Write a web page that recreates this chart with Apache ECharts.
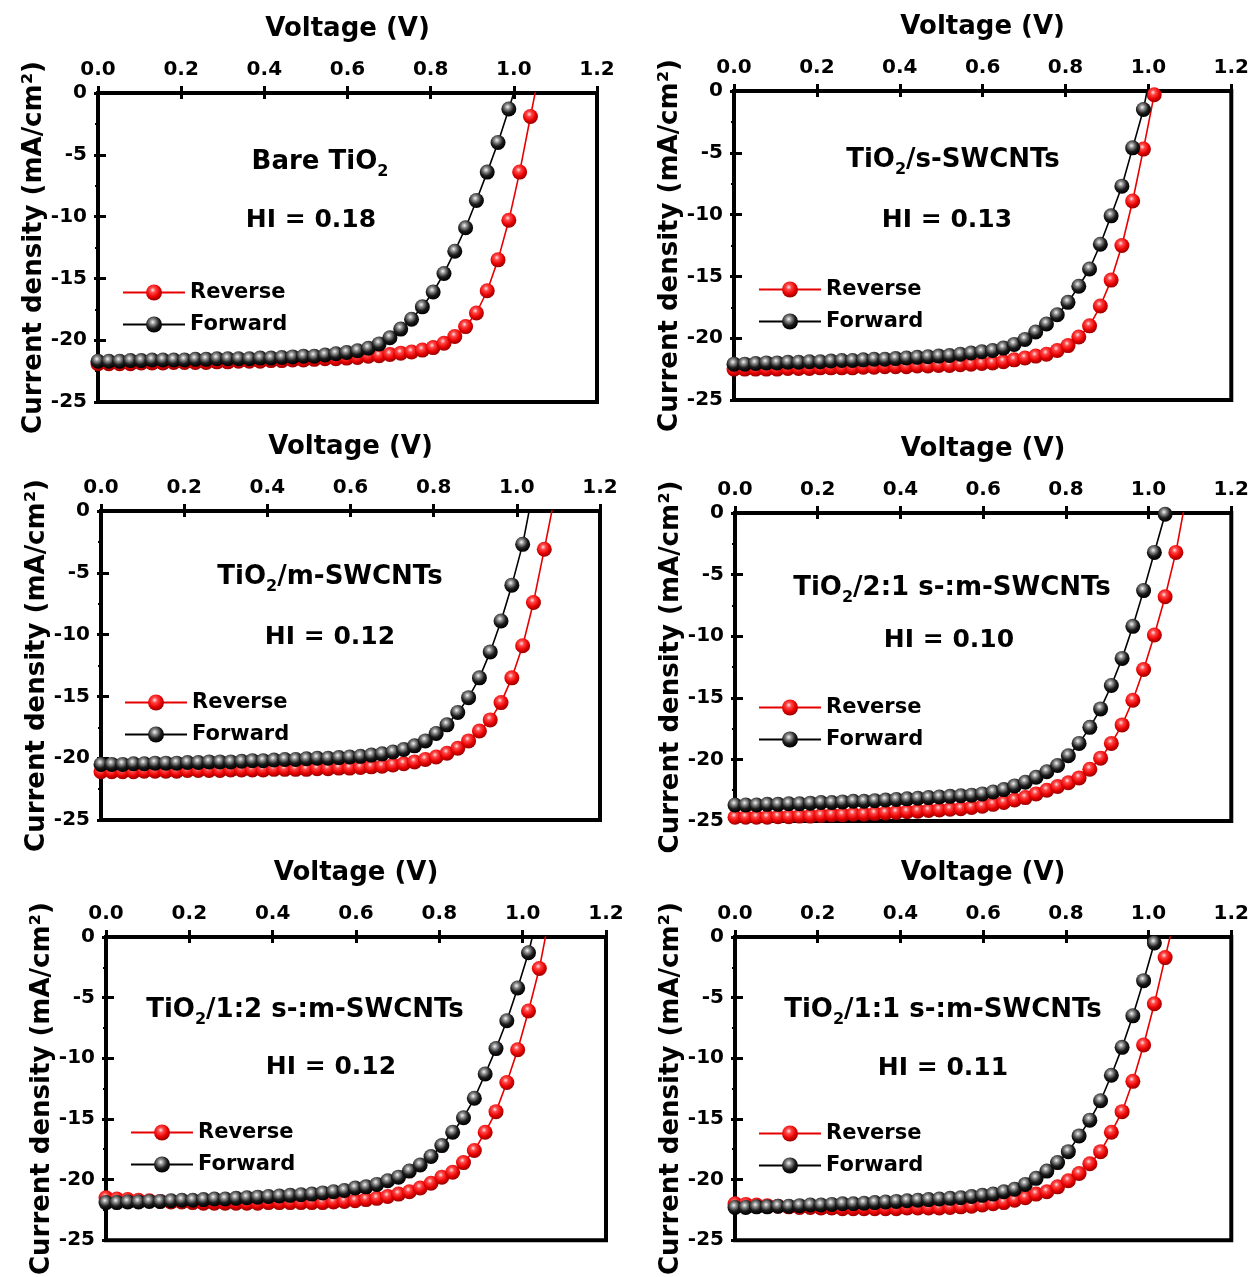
<!DOCTYPE html>
<html><head><meta charset="utf-8">
<script src="https://cdn.jsdelivr.net/npm/echarts@6/dist/echarts.min.js"></script>
<style>html,body{margin:0;padding:0;background:#fff}#c{width:1252px;height:1277px}</style>
</head><body><div id="c"></div>
<script>
// ---------- DATA ----------
const voltage = [
 0.000,0.026,0.052,0.078,0.104,0.130,0.156,0.182,0.208,0.234,
 0.260,0.286,0.312,0.338,0.364,0.390,0.416,0.442,0.468,0.494,
 0.520,0.546,0.572,0.598,0.624,0.650,0.676,0.702,0.728,0.754,
 0.780,0.806,0.832,0.858,0.884,0.910,0.936,0.962,0.988,1.014,
 1.040,1.066,1.092,1.118];

const xTickLabels = ['0.0','0.2','0.4','0.6','0.8','1.0','1.2'];
const yTickLabels = ['-25','-20','-15','-10','-5','0'];
const seriesNames = ['Reverse','Forward'];

// Sample labels: [text before subscript, subscript, text after]
const sampleLabels = [
 ['Bare TiO','2',''],
 ['TiO','2','/s-SWCNTs'],
 ['TiO','2','/m-SWCNTs'],
 ['TiO','2','/2:1 s-:m-SWCNTs'],
 ['TiO','2','/1:2 s-:m-SWCNTs'],
 ['TiO','2','/1:1 s-:m-SWCNTs']
];
const hiValues = ['0.18','0.13','0.12','0.10','0.12','0.11'];

// Current density (mA/cm2), indexed by voltage
const bareRev = [-21.9,-21.9,-21.9,-21.9,-21.85,-21.85,-21.85,-21.8,-21.8,-21.8,
 -21.8,-21.75,-21.75,-21.7,-21.7,-21.7,-21.65,-21.65,-21.6,-21.6,
 -21.55,-21.5,-21.5,-21.45,-21.4,-21.3,-21.25,-21.15,-21.05,-20.95,
 -20.8,-20.6,-20.25,-19.7,-18.9,-17.8,-16.0,-13.5,-10.3,-6.4,
 -1.9,2.5];
const bareFwd = [-21.7,-21.7,-21.7,-21.65,-21.65,-21.6,-21.6,-21.6,-21.6,-21.55,
 -21.55,-21.5,-21.5,-21.5,-21.5,-21.45,-21.45,-21.4,-21.35,-21.3,
 -21.3,-21.2,-21.1,-21.0,-20.85,-20.65,-20.3,-19.8,-19.1,-18.3,
 -17.3,-16.1,-14.6,-12.8,-10.9,-8.7,-6.4,-4.0,-1.3,1.6];

const sRev = [-22.5,-22.5,-22.5,-22.5,-22.5,-22.45,-22.45,-22.45,-22.4,-22.4,
 -22.4,-22.4,-22.35,-22.35,-22.3,-22.3,-22.3,-22.25,-22.25,-22.2,
 -22.2,-22.15,-22.1,-22.05,-22.0,-21.9,-21.75,-21.6,-21.45,-21.3,
 -21.0,-20.6,-19.9,-19.0,-17.4,-15.3,-12.5,-8.9,-4.7,-0.3,
 4.0];
const sFwd = [-22.1,-22.1,-22.05,-22.0,-22.0,-21.95,-21.95,-21.9,-21.9,-21.85,
 -21.8,-21.8,-21.75,-21.7,-21.7,-21.65,-21.6,-21.55,-21.5,-21.45,
 -21.4,-21.3,-21.2,-21.1,-21.0,-20.8,-20.5,-20.1,-19.5,-18.85,
 -18.1,-17.1,-15.8,-14.4,-12.4,-10.1,-7.7,-4.6,-1.5,3.0];

const mRev = [-21.1,-21.1,-21.1,-21.1,-21.05,-21.05,-21.05,-21.05,-21.0,-21.0,
 -21.0,-21.0,-20.95,-20.95,-20.95,-20.95,-20.9,-20.9,-20.9,-20.9,
 -20.85,-20.85,-20.8,-20.8,-20.75,-20.7,-20.65,-20.55,-20.45,-20.3,
 -20.1,-19.9,-19.6,-19.2,-18.6,-17.8,-16.9,-15.5,-13.5,-10.9,
 -7.4,-3.1,1.3];
const mFwd = [-20.5,-20.5,-20.5,-20.45,-20.45,-20.4,-20.4,-20.4,-20.35,-20.35,
 -20.3,-20.3,-20.3,-20.25,-20.2,-20.2,-20.15,-20.1,-20.1,-20.05,
 -20.0,-20.0,-19.95,-19.9,-19.85,-19.75,-19.65,-19.5,-19.3,-19.0,
 -18.6,-18.0,-17.3,-16.3,-15.1,-13.5,-11.4,-8.9,-6.0,-2.7,
 1.8];

const r21Rev = [-24.7,-24.7,-24.7,-24.7,-24.65,-24.65,-24.6,-24.6,-24.55,-24.5,
 -24.5,-24.45,-24.45,-24.4,-24.35,-24.3,-24.25,-24.2,-24.15,-24.1,
 -24.05,-24.0,-23.9,-23.8,-23.65,-23.5,-23.3,-23.1,-22.8,-22.5,
 -22.2,-21.9,-21.5,-20.8,-19.9,-18.7,-17.2,-15.2,-12.7,-9.9,
 -6.8,-3.2,1.5];
const r21Fwd = [-23.7,-23.7,-23.7,-23.65,-23.65,-23.6,-23.6,-23.55,-23.5,-23.5,
 -23.45,-23.4,-23.4,-23.35,-23.3,-23.25,-23.2,-23.15,-23.1,-23.05,
 -23.0,-22.95,-22.9,-22.8,-22.65,-22.45,-22.15,-21.85,-21.45,-21.0,
 -20.5,-19.7,-18.7,-17.4,-15.9,-14.0,-11.8,-9.2,-6.3,-3.2,
 -0.1,3.0];

const r12Rev = [-21.5,-21.6,-21.65,-21.7,-21.75,-21.8,-21.85,-21.85,-21.9,-21.95,
 -21.95,-21.95,-21.95,-21.95,-21.95,-21.9,-21.9,-21.9,-21.9,-21.9,
 -21.9,-21.85,-21.8,-21.75,-21.65,-21.55,-21.4,-21.2,-21.0,-20.7,
 -20.3,-19.8,-19.4,-18.6,-17.6,-16.1,-14.4,-12.0,-9.3,-6.1,
 -2.6,2.0];
const r12Fwd = [-21.9,-21.9,-21.85,-21.85,-21.8,-21.8,-21.75,-21.7,-21.7,-21.65,
 -21.6,-21.6,-21.55,-21.5,-21.45,-21.4,-21.35,-21.3,-21.25,-21.2,
 -21.1,-21.0,-20.9,-20.7,-20.6,-20.4,-20.1,-19.8,-19.3,-18.8,
 -18.1,-17.2,-16.1,-14.9,-13.3,-11.3,-9.2,-6.9,-4.2,-1.3,
 2.4];

const r11Rev = [-22.0,-22.05,-22.1,-22.15,-22.2,-22.25,-22.3,-22.3,-22.35,-22.35,
 -22.4,-22.4,-22.4,-22.4,-22.4,-22.4,-22.35,-22.35,-22.35,-22.35,
 -22.3,-22.25,-22.2,-22.1,-22.0,-21.9,-21.7,-21.5,-21.2,-21.0,
 -20.6,-20.1,-19.5,-18.7,-17.7,-16.1,-14.4,-11.9,-8.9,-5.5,
 -1.7,2.0];
const r11Fwd = [-22.3,-22.3,-22.25,-22.25,-22.2,-22.2,-22.15,-22.1,-22.1,-22.05,
 -22.0,-22.0,-21.95,-21.9,-21.85,-21.8,-21.75,-21.7,-21.65,-21.6,
 -21.55,-21.5,-21.4,-21.3,-21.2,-21.0,-20.8,-20.4,-19.9,-19.3,
 -18.6,-17.7,-16.4,-15.1,-13.5,-11.4,-9.1,-6.5,-3.6,-0.5,
 2.5];

const panelData = [
 [bareRev, bareFwd], [sRev, sFwd], [mRev, mFwd],
 [r21Rev, r21Fwd], [r12Rev, r12Fwd], [r11Rev, r11Fwd]
];

// ---------- LAYOUT / STYLE ----------
const FONT = '"DejaVu Sans", "Liberation Sans", Arial, sans-serif';
const grids = [
 {left: 98,  top: 93,  width: 499, height: 309},
 {left: 734, top: 91,  width: 500, height: 309},
 {left: 101, top: 511, width: 499, height: 309},
 {left: 735, top: 513, width: 499, height: 308},
 {left: 106, top: 937, width: 500, height: 308},
 {left: 735, top: 937, width: 499, height: 308}
];
const labelPos = [
 {lx: 320, ly: 162, hx: 311, hy: 220},
 {lx: 953, ly: 160, hx: 947, hy: 220},
 {lx: 330, ly: 577, hx: 330, hy: 637},
 {lx: 952, ly: 588, hx: 949, hy: 640},
 {lx: 305, ly: 1010, hx: 331, hy: 1067},
 {lx: 943, ly: 1010, hx: 943, hy: 1068}
];
const legendPos = [
 {x: 122, y: 282}, {x: 758, y: 279}, {x: 124, y: 692},
 {x: 758, y: 697}, {x: 130, y: 1122}, {x: 758, y: 1123}
];

const redBall = {type:'radial', x:0.42, y:0.35, r:0.62, colorStops:[
  {offset:0, color:'#ffe4e4'}, {offset:0.28, color:'#ff4545'},
  {offset:0.7, color:'#e80000'}, {offset:1, color:'#a00000'}]};
const blackBall = {type:'radial', x:0.42, y:0.35, r:0.62, colorStops:[
  {offset:0, color:'#f6f6f6'}, {offset:0.28, color:'#8c8c8c'},
  {offset:0.65, color:'#1c1c1c'}, {offset:1, color:'#000'}]};
const seriesColors = [
  {line:'#e60000', ball: redBall},
  {line:'#000000', ball: blackBall}
];

const tickLine = {color:'#000', width:3};
const option = {
  animation: false,
  backgroundColor: '#fff',
  grid: [], xAxis: [], yAxis: [], series: [], legend: [], graphic: []
};

grids.forEach((g, i) => {
  option.grid.push(Object.assign({show:true, borderColor:'#000', borderWidth:4,
    backgroundColor:'rgba(0,0,0,0)'}, g));
  // top axis with labels + outside ticks
  option.xAxis.push({gridIndex:i, type:'value', position:'top', min:0, max:1.2, interval:0.2,
    name:'Voltage (V)', nameLocation:'middle', nameGap:51,
    nameTextStyle:{fontFamily:FONT, fontWeight:'bold', fontSize:26, color:'#000'},
    axisLine:{show:false}, splitLine:{show:false},
    axisTick:{show:true, inside:false, length:7, lineStyle:tickLine},
    axisLabel:{show:true, margin:13, fontFamily:FONT, fontWeight:'bold', fontSize:20, color:'#000',
      formatter: v => xTickLabels[Math.round(v/0.2)]}});
  // top axis, inside ticks only
  option.xAxis.push({gridIndex:i, type:'value', position:'top', min:0, max:1.2, interval:0.2,
    axisLine:{show:false}, splitLine:{show:false}, axisLabel:{show:false},
    axisTick:{show:true, inside:true, length:6, lineStyle:tickLine}});
  // left axis with labels
  option.yAxis.push({gridIndex:i, type:'value', position:'left', min:-25, max:0, interval:5,
    name:'Current density (mA/cm²)', nameLocation:'middle', nameGap:51, nameRotate:90,
    nameTextStyle:{fontFamily:FONT, fontWeight:'bold', fontSize:26, color:'#000'},
    axisLine:{show:false}, splitLine:{show:false},
    axisTick:{show:true, inside:false, length:4, lineStyle:tickLine},
    minorTick:{show:true, splitNumber:2, length:3, lineStyle:{color:'#000', width:2}},
    axisLabel:{show:true, margin:11, fontFamily:FONT, fontWeight:'bold', fontSize:20, color:'#000',
      formatter: v => yTickLabels[Math.round((v + 25)/5)]}});
  option.yAxis.push({gridIndex:i, type:'value', position:'left', min:-25, max:0, interval:5,
    axisLine:{show:false}, splitLine:{show:false}, axisLabel:{show:false},
    axisTick:{show:true, inside:true, length:8, lineStyle:tickLine}});

  panelData[i].forEach((vals, k) => {
    option.series.push({
      type:'line', name: seriesNames[k], xAxisIndex: i*2, yAxisIndex: i*2,
      data: vals.map((y, j) => [voltage[j], y]),
      symbol:'circle', symbolSize:15, showSymbol:true, showAllSymbol:true,
      clip:true, z: 3 + k,
      lineStyle:{color: seriesColors[k].line, width:1.6},
      itemStyle:{color: seriesColors[k].ball, borderWidth:0},
      emphasis:{disabled:true}
    });
  });

  option.legend.push({
    data: seriesNames, orient:'vertical', left: legendPos[i].x, top: legendPos[i].y,
    itemWidth:62, itemHeight:20, itemGap:11, padding:0, selectedMode:false,
    textStyle:{fontFamily:FONT, fontWeight:'bold', fontSize:21, color:'#000'}
  });

  const L = sampleLabels[i];
  let txt = '{m|' + L[0] + '}{s|' + L[1] + '}';
  if (L[2]) txt += '{m|' + L[2] + '}';
  option.graphic.push({type:'text', x: labelPos[i].lx, y: labelPos[i].ly, z: 10,
    style:{text: txt, align:'center', verticalAlign:'middle', fill:'#000',
      rich:{
        m:{font:'bold 26px ' + FONT, lineHeight:36, fill:'#000'},
        s:{font:'bold 16px ' + FONT, lineHeight:14, verticalAlign:'bottom', fill:'#000'}
      }}});
  option.graphic.push({type:'text', x: labelPos[i].hx, y: labelPos[i].hy, z: 10,
    style:{text: 'HI = ' + hiValues[i], align:'center', verticalAlign:'middle', fill:'#000',
      font:'bold 25px ' + FONT}});
});

const chart = echarts.init(document.getElementById('c'), null, {renderer:'canvas'});
chart.setOption(option);
</script>
</body></html>
